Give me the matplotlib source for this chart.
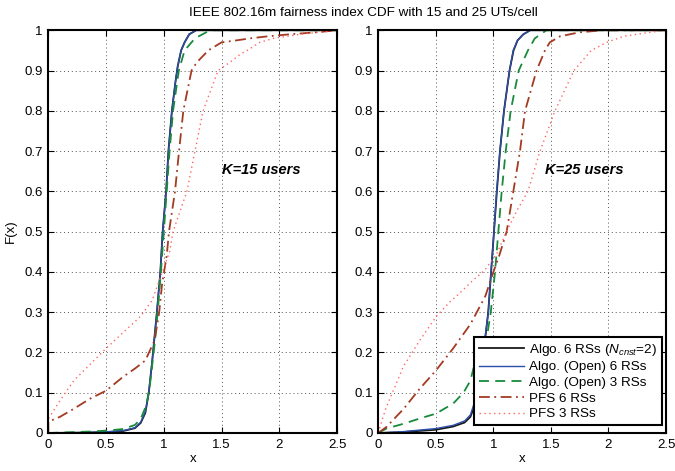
import matplotlib
matplotlib.use("Agg")
import matplotlib.pyplot as plt

plt.rcParams['font.family'] = ['Liberation Sans', 'DejaVu Sans']
plt.rcParams['mathtext.fontset'] = 'custom'
plt.rcParams['mathtext.it'] = 'Liberation Sans:italic'
plt.rcParams['mathtext.rm'] = 'Liberation Sans'

title = "IEEE 802.16m fairness index CDF with 15 and 25 UTs/cell"
labels = [r"Algo. 6 RSs ($N_{cnst}$=2)", "Algo. (Open) 6 RSs", "Algo. (Open) 3 RSs",
          "PFS 6 RSs", "PFS 3 RSs"]
xticks = [0, 0.5, 1, 1.5, 2, 2.5]
xticklabels = ["0", "0.5", "1", "1.5", "2", "2.5"]
yticks = [0, 0.1, 0.2, 0.3, 0.4, 0.5, 0.6, 0.7, 0.8, 0.9, 1]
yticklabels = ["0", "0.1", "0.2", "0.3", "0.4", "0.5", "0.6", "0.7", "0.8", "0.9", "1"]

# ---- K = 15 users (left panel) ----
k15_algo6_x = [0, 0.3, 0.5, 0.65, 0.75, 0.8, 0.84, 0.87, 0.9, 0.94, 0.97, 0.99, 1.02, 1.04, 1.07, 1.10, 1.12, 1.15, 1.18, 1.22, 1.28, 2.5]
k15_algo6_y = [0, 0.001, 0.002, 0.005, 0.012, 0.025, 0.05, 0.1, 0.18, 0.3, 0.4, 0.5, 0.6, 0.7, 0.8, 0.87, 0.91, 0.95, 0.97, 0.99, 1.0, 1.0]
k15_open6_x = [0, 0.3, 0.5, 0.65, 0.75, 0.8, 0.84, 0.87, 0.9, 0.94, 0.97, 0.99, 1.02, 1.04, 1.07, 1.10, 1.12, 1.15, 1.18, 1.22, 1.28, 2.5]
k15_open6_y = [0, 0.001, 0.003, 0.006, 0.013, 0.027, 0.053, 0.1, 0.18, 0.3, 0.4, 0.5, 0.6, 0.7, 0.8, 0.87, 0.91, 0.95, 0.97, 0.99, 1.0, 1.0]
k15_open3_x = [0, 0.2, 0.4, 0.55, 0.65, 0.75, 0.8, 0.85, 0.88, 0.92, 0.95, 0.98, 1.0, 1.03, 1.05, 1.08, 1.13, 1.18, 1.27, 1.4, 2.5]
k15_open3_y = [0, 0.002, 0.004, 0.007, 0.01, 0.02, 0.035, 0.07, 0.12, 0.22, 0.31, 0.42, 0.5, 0.62, 0.7, 0.8, 0.9, 0.95, 0.98, 1.0, 1.0]
k15_pfs6_x = [0, 0, 0.1, 0.22, 0.36, 0.5, 0.65, 0.75, 0.84, 0.92, 0.96, 0.985, 1.025, 1.045, 1.097, 1.132, 1.169, 1.24, 1.285, 1.385, 1.5, 1.63, 1.75, 1.9, 2.09, 2.32, 2.5]
k15_pfs6_y = [0, 0.028, 0.04, 0.06, 0.085, 0.105, 0.14, 0.16, 0.18, 0.23, 0.3, 0.37, 0.44, 0.5, 0.6, 0.7, 0.8, 0.9, 0.92, 0.95, 0.97, 0.975, 0.98, 0.985, 0.99, 0.995, 1.0]
k15_pfs3_x = [0, 0, 0.1, 0.22, 0.36, 0.5, 0.65, 0.8, 0.9, 0.95, 1.0, 1.05, 1.08, 1.2, 1.27, 1.34, 1.47, 1.57, 1.66, 1.75, 1.83, 1.95, 2.18, 2.5]
k15_pfs3_y = [0, 0.035, 0.08, 0.13, 0.17, 0.21, 0.25, 0.29, 0.33, 0.37, 0.41, 0.45, 0.5, 0.6, 0.7, 0.8, 0.9, 0.92, 0.94, 0.955, 0.97, 0.98, 0.99, 1.0]

# ---- K = 25 users (right panel) ----
k25_algo6_x = [0, 0.2, 0.5, 0.65, 0.75, 0.8, 0.84, 0.88, 0.91, 0.935, 0.955, 0.98, 1.005, 1.03, 1.057, 1.092, 1.14, 1.175, 1.21, 1.26, 1.32, 2.5]
k25_algo6_y = [0, 0.002, 0.008, 0.016, 0.026, 0.04, 0.07, 0.13, 0.19, 0.25, 0.3, 0.4, 0.5, 0.6, 0.7, 0.8, 0.9, 0.95, 0.975, 0.99, 1.0, 1.0]
k25_open6_x = [0, 0.2, 0.5, 0.65, 0.75, 0.8, 0.84, 0.88, 0.91, 0.933, 0.956, 0.979, 1.005, 1.028, 1.057, 1.092, 1.14, 1.172, 1.21, 1.26, 1.32, 2.5]
k25_open6_y = [0, 0.003, 0.011, 0.019, 0.03, 0.045, 0.08, 0.14, 0.2, 0.25, 0.3, 0.4, 0.5, 0.6, 0.7, 0.8, 0.9, 0.95, 0.975, 0.99, 1.0, 1.0]
k25_open3_x = [0, 0.07, 0.22, 0.36, 0.5, 0.65, 0.74, 0.8, 0.826, 0.88, 0.95, 0.977, 1.014, 1.043, 1.072, 1.107, 1.15, 1.22, 1.30, 1.36, 1.46, 2.5]
k25_open3_y = [0, 0.011, 0.023, 0.036, 0.048, 0.073, 0.1, 0.13, 0.16, 0.2, 0.25, 0.3, 0.4, 0.5, 0.6, 0.7, 0.8, 0.9, 0.95, 0.98, 1.0, 1.0]
k25_pfs6_x = [0, 0.07, 0.22, 0.36, 0.5, 0.65, 0.75, 0.8, 0.93, 1.0, 1.05, 1.115, 1.173, 1.231, 1.275, 1.375, 1.448, 1.49, 1.578, 1.75, 1.95, 2.5]
k25_pfs6_y = [0, 0.015, 0.06, 0.11, 0.155, 0.21, 0.25, 0.27, 0.34, 0.4, 0.44, 0.5, 0.6, 0.7, 0.8, 0.9, 0.95, 0.97, 0.985, 0.995, 1.0, 1.0]
k25_pfs3_x = [0, 0.03, 0.07, 0.145, 0.217, 0.36, 0.505, 0.62, 0.68, 0.826, 0.927, 1.03, 1.115, 1.2, 1.30, 1.405, 1.535, 1.70, 1.85, 1.985, 2.13, 2.36, 2.5]
k25_pfs3_y = [0, 0.03, 0.065, 0.115, 0.165, 0.23, 0.29, 0.325, 0.34, 0.38, 0.405, 0.446, 0.5, 0.55, 0.6, 0.7, 0.8, 0.9, 0.95, 0.97, 0.985, 0.995, 1.0]

c_black = "#1a1a1a"
c_blue = "#2b4ea8"
c_green = "#188a3c"
c_brown = "#a33a22"
c_red = "#ff6666"

fig = plt.figure(figsize=(6.75, 4.71), dpi=100)
axL = fig.add_axes([0.0716, 0.0807, 0.4277, 0.855])
axR = fig.add_axes([0.5605, 0.0807, 0.4262, 0.855])

panels = [
    (axL, k15_algo6_x, k15_algo6_y, k15_open6_x, k15_open6_y, k15_open3_x, k15_open3_y,
     k15_pfs6_x, k15_pfs6_y, k15_pfs3_x, k15_pfs3_y, "K=15 users", 1.5),
    (axR, k25_algo6_x, k25_algo6_y, k25_open6_x, k25_open6_y, k25_open3_x, k25_open3_y,
     k25_pfs6_x, k25_pfs6_y, k25_pfs3_x, k25_pfs3_y, "K=25 users", 1.45),
]

for (ax, ax6, ay6, bx6, by6, gx3, gy3, px6, py6, px3, py3, txt, tx) in panels:
    h1, = ax.plot(ax6, ay6, color=c_black, lw=1.3, label=labels[0])
    h2, = ax.plot(bx6, by6, color=c_blue, lw=1.0, label=labels[1])
    h3, = ax.plot(gx3, gy3, color=c_green, lw=1.3, ls=(0, (5.5, 3.5)), label=labels[2])
    h4, = ax.plot(px6, py6, color=c_brown, lw=1.3, ls=(0, (6, 2.5, 1, 2.5)), label=labels[3])
    h5, = ax.plot(px3, py3, color=c_red, lw=1.0, ls=(0, (1, 2.5)), label=labels[4])
    ax.set_xlim(0, 2.5)
    ax.set_ylim(0, 1)
    ax.set_xticks(xticks)
    ax.set_xticklabels(xticklabels)
    ax.set_yticks(yticks)
    ax.set_yticklabels(yticklabels)
    ax.tick_params(direction='in', top=True, right=True, length=4, width=0.8,
                   labelsize=9.5, pad=4)
    ax.grid(True, ls=(0, (1, 3)), color='#555555', lw=0.7)
    for s in ax.spines.values():
        s.set_linewidth(1.5)
    ax.set_xlabel("x", fontsize=9.5, labelpad=2)
    ax.text(tx, 0.653, txt, fontsize=10.5, fontweight='bold', fontstyle='italic',
            va='center', ha='left')

axL.set_ylabel("F(x)", fontsize=9.5, labelpad=5)

leg = axR.legend(handles=[h1, h2, h3, h4, h5], loc='lower right',
                 bbox_to_anchor=(0.985, 0.02), borderaxespad=0, fontsize=9.7,
                 fancybox=False, framealpha=1, edgecolor='black',
                 handlelength=3.3, handletextpad=0.4, labelspacing=0.24,
                 borderpad=0.35)
leg.get_frame().set_linewidth(1.5)

fig.text(0.538, 0.985, title, ha='center', va='top', fontsize=9.7)

fig.savefig("out.png", dpi=100)
